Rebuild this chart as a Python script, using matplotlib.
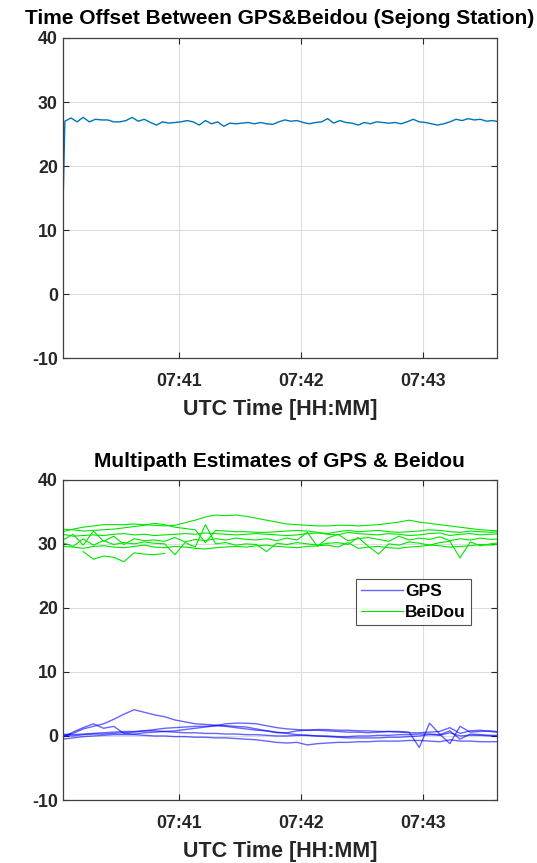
import datetime as dt
import numpy as np
import matplotlib
matplotlib.use("Agg")
import matplotlib.pyplot as plt
import matplotlib.dates as mdates

plt.rcParams["font.family"] = ["Liberation Sans", "DejaVu Sans"]
plt.rcParams["font.weight"] = "bold"
plt.rcParams["axes.unicode_minus"] = False

# --- data (seconds after 07:40:00 UTC) ---
offset_start = 12.3
offset_vals = [27.0, 27.5, 26.9, 27.6, 26.9, 27.3, 27.2, 27.2, 26.9, 26.9,
               27.1, 27.6, 27.0, 27.3, 26.8, 26.4, 26.9, 26.7, 26.8, 26.9,
               27.1, 26.9, 26.4, 27.1, 26.6, 26.9, 26.2, 26.7, 26.6, 26.7,
               26.8, 26.6, 26.8, 26.6, 26.5, 26.9, 27.2, 27.0, 27.1, 26.8,
               26.6, 26.8, 26.9, 27.4, 26.7, 27.1, 26.8, 26.7, 26.4, 26.8,
               26.6, 26.9, 26.8, 26.7, 26.8, 26.6, 26.9, 27.3, 26.9, 26.8,
               26.6, 26.4, 26.6, 26.9, 27.3, 27.1, 27.4, 27.2, 27.3, 27.0,
               27.1, 26.9]
offset_t = np.r_[3, np.arange(4, 4 + 3 * len(offset_vals), 3)]
offset_y = np.r_[offset_start, offset_vals]

mp_t = np.arange(3, 3 + 5 * 44, 5)

gps = [
    [0.0, 0.4, 1.1, 1.5, 1.9, 2.6, 3.4, 4.1, 3.7, 3.3,
     3.0, 2.5, 2.2, 1.9, 1.8, 1.7, 1.6, 1.5, 1.4, 1.1,
     0.8, 0.5, 0.5, 0.8, 0.9, 1.0, 1.0, 0.9, 0.9, 0.8,
     0.8, 0.7, 0.7, 0.6, 0.5, 0.5, 0.6, 0.7, 1.3, 0.4,
     0.8, 0.9, 0.7, 0.5],
    [-0.2, 0.6, 1.3, 1.9, 1.2, 1.5, 0.4, 0.3, 0.5, 0.6,
     0.7, 0.8, 1.0, 1.2, 1.4, 1.6, 1.9, 2.0, 2.0, 1.9,
     1.6, 1.3, 1.1, 1.0, 0.9, 0.9, 0.8, 0.7, 0.6, 0.6,
     0.5, 0.6, 0.7, 0.7, 0.6, -1.8, 2.0, 0.3, -1.2, 1.5,
     0.6, 0.7, 0.8, 0.6],
    [0.3, 0.2, 0.3, 0.4, 0.5, 0.6, 0.7, 0.7, 0.8, 0.8,
     0.7, 0.6, 0.5, 0.5, 0.4, 0.4, 0.3, 0.3, 0.2, 0.2,
     0.1, 0.0, 0.0, 0.1, 0.1, 0.0, 0.0, -0.1, -0.1, 0.0,
     0.0, 0.1, 0.1, 0.2, 0.2, 0.3, 0.3, 0.2, 0.8, -0.5,
     0.3, 0.2, 0.1, 0.1],
    [-0.5, -0.3, -0.1, 0.0, 0.1, 0.2, 0.2, 0.2, 0.1, 0.0,
     0.0, -0.1, -0.1, -0.2, -0.2, -0.3, -0.3, -0.4, -0.5, -0.6,
     -0.8, -1.0, -1.1, -1.0, -1.4, -1.2, -1.1, -1.0, -1.0, -0.9,
     -0.9, -0.8, -0.8, -0.8, -0.7, -0.7, -0.8, -0.9, -0.6, -0.8,
     -0.8, -0.9, -0.9, -0.9],
    [0.1, 0.0, 0.2, 0.3, 0.3, 0.4, 0.5, 0.6, 0.8, 1.0,
     1.2, 1.3, 1.4, 1.5, 1.5, 1.6, 1.5, 1.3, 1.1, 0.9,
     0.8, 0.6, 0.4, 0.2, 0.1, 0.0, -0.1, -0.2, -0.3, -0.3,
     -0.3, -0.3, -0.2, -0.2, -0.1, 0.0, 0.2, 0.1, 0.5, 0.0,
     0.1, 0.1, 0.0, -0.1],
]

beidou = [
    [31.9, 32.3, 32.6, 32.8, 33.0, 33.0, 33.0, 33.1, 33.0, 32.9,
     32.8, 32.9, 33.3, 33.7, 34.2, 34.5, 34.4, 34.5, 34.3, 34.0,
     33.7, 33.4, 33.1, 33.0, 32.9, 32.8, 32.8, 32.9, 32.9, 32.8,
     32.9, 33.0, 33.2, 33.4, 33.7, 33.4, 33.2, 33.0, 32.8, 32.6,
     32.4, 32.2, 32.1, 32.0],
    [32.3, 32.2, 32.0, 32.1, 32.2, 32.3, 32.5, 32.7, 32.9, 33.2,
     33.0, 32.6, 32.4, 32.2, 30.2, 32.1, 32.0, 31.9, 31.9, 31.8,
     31.8, 31.9, 32.0, 32.1, 32.0, 31.8, 31.6, 31.9, 32.1, 31.9,
     32.0, 32.1, 31.9, 31.8, 31.9, 32.0, 32.2, 32.1, 31.9, 31.8,
     32.0, 31.9, 31.8, 31.9],
    [31.5, 31.2, 31.3, 31.4, 31.3, 31.5, 31.6, 31.4, 31.5, 31.3,
     31.4, 31.5, 31.6, 31.5, 31.7, 31.6, 31.5, 31.4, 31.5, 31.6,
     31.5, 31.4, 31.3, 31.4, 31.6, 31.7, 31.5, 31.4, 31.8, 31.6,
     31.5, 31.4, 31.6, 31.5, 31.3, 31.4, 31.6, 31.7, 31.3, 31.5,
     31.6, 31.4, 31.5, 31.6],
    [30.6, 31.5, 29.8, 32.0, 30.4, 31.2, 29.9, 30.8, 30.5, 30.6,
     30.4, 31.0, 30.3, 30.7, 30.5, 30.8, 30.6, 30.9, 30.7, 30.6,
     30.8, 30.5, 30.9, 30.6, 31.8, 29.6, 30.9, 31.5, 30.5, 30.8,
     31.0, 30.7, 30.4, 31.2, 30.6, 30.9, 30.7, 31.1, 30.5, 30.8,
     30.6, 30.9, 30.7, 30.8],
    [30.2, 29.6, 30.8, 29.8, 30.5, 29.9, 30.2, 30.0, 30.3, 30.1,
     30.0, 28.3, 30.2, 29.5, 33.0, 30.0, 30.2, 29.8, 30.0, 29.9,
     28.8, 30.1, 29.9, 30.2, 30.0, 29.8, 30.1, 30.2, 29.9, 31.0,
     29.6, 28.4, 30.0, 29.8, 30.3, 30.1, 29.8, 30.2, 30.4, 27.8,
     30.3, 29.7, 30.0, 30.2],
    [29.6, 29.5, 29.3, 29.6, 29.7, 29.5, 29.4, 29.6, 29.8, 29.5,
     29.4, 29.6, 29.5, 29.3, 29.2, 29.4, 29.5, 29.6, 29.5, 29.7,
     29.8, 29.6, 29.5, 29.4, 29.6, 29.7, 29.8, 29.5, 30.2, 29.3,
     29.5, 29.6, 29.4, 29.3, 29.5, 29.6, 29.8, 29.7, 29.5, 29.6,
     29.7, 29.9, 29.8, 30.0],
]
beidou_short = [28.8, 27.6, 28.1, 27.9, 27.2, 28.6, 28.4, 28.3, 28.5]

t0 = dt.datetime(2000, 1, 1, 7, 40, 0)


def to_time(sec):
    return [t0 + dt.timedelta(seconds=float(s)) for s in sec]


def style(ax):
    ax.set_xlim(to_time([3])[0], to_time([216])[0])
    ax.set_ylim(-10, 40)
    ax.set_yticks([-10, 0, 10, 20, 30, 40])
    ax.xaxis.set_major_locator(mdates.MinuteLocator())
    ax.xaxis.set_major_formatter(mdates.DateFormatter("%H:%M"))
    ax.grid(True, color="#dddddd", linewidth=0.8)
    ax.tick_params(direction="in", top=True, right=True, labelsize=12.8,
                   color="#262626", labelcolor="#262626", length=4)
    ax.tick_params(axis="x", pad=11)
    for sp in ax.spines.values():
        sp.set_color("#404040")
        sp.set_linewidth(0.9)
    ax.set_xlabel("UTC Time [HH:MM]", fontsize=15.5, fontweight="bold",
                  color="#262626", labelpad=6)


fig = plt.figure(figsize=(5.37, 8.63), dpi=100)
ax1 = fig.add_axes([0.117, 0.585, 0.808, 0.371])
ax2 = fig.add_axes([0.117, 0.073, 0.808, 0.371])

ax1.plot(to_time(offset_t), offset_y, color="#0072BD", linewidth=1)
style(ax1)
ax1.set_title("Time Offset Between GPS&Beidou (Sejong Station)",
              fontsize=15, fontweight="bold", pad=10)

for i, g in enumerate(gps):
    ax2.plot(to_time(mp_t), g, color="#0000ff", alpha=0.6, linewidth=1,
             label="GPS" if i == 0 else None)
for i, b in enumerate(beidou):
    ax2.plot(to_time(mp_t), b, color="#00e600", linewidth=0.8,
             label="BeiDou" if i == 0 else None)
ax2.plot(to_time(mp_t[2:2 + len(beidou_short)]), beidou_short,
         color="#00e600", linewidth=0.8)
style(ax2)
ax2.set_title("Multipath Estimates of GPS & Beidou",
              fontsize=15, fontweight="bold", pad=9)
leg = ax2.legend(loc="upper left", bbox_to_anchor=(0.675, 0.69),
                 fontsize=12.5, fancybox=False, edgecolor="#262626",
                 borderpad=0.3, handlelength=2.4, handletextpad=0.15,
                 labelspacing=0.3, borderaxespad=0)
leg.get_frame().set_linewidth(0.8)

fig.savefig("out.png", dpi=100)
